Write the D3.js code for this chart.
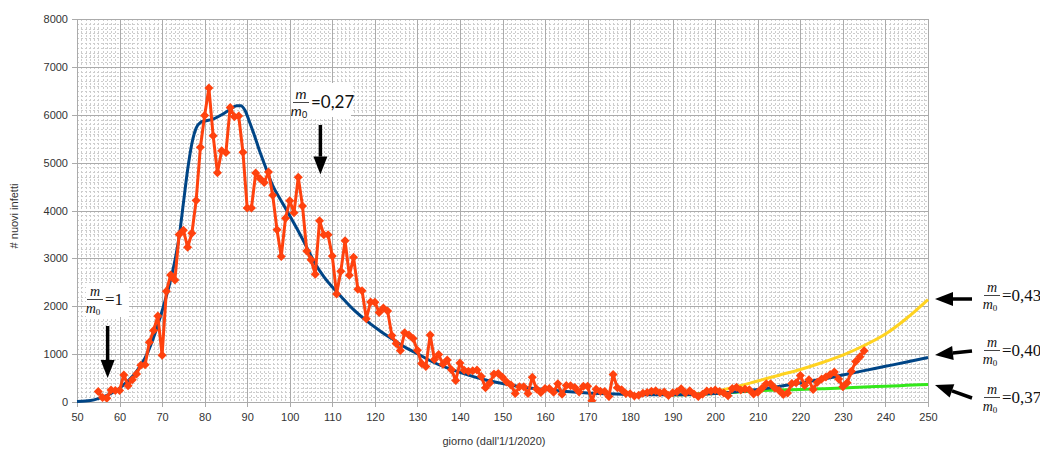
<!DOCTYPE html>
<html>
<head>
<meta charset="utf-8">
<script src="https://cdn.jsdelivr.net/npm/d3@7"></script>
<style>
  body { margin: 0; background: #fff; }
  svg { display: block; }
</style>
</head>
<body>
<svg id="chart" width="1040" height="449"></svg>
<script>
// Daily new cases, one value per day starting at day 55
const firstCaseDay = 55;
const newCases = [
  221, 93, 78, 250, 238, 240, 566, 342, 466, 587,
  769, 778, 1247, 1492, 1797, 977, 2313, 2651, 2547, 3497,
  3590, 3233, 3526, 4207, 5322, 5986, 6557, 5560, 4789, 5249,
  5210, 6153, 5959, 5974, 5217, 4050, 4053, 4782, 4668, 4585,
  4805, 4316, 3599, 3039, 3836, 4204, 3951, 4694, 4092, 3153,
  2972, 2667, 3786, 3493, 3491, 3047, 2256, 2729, 3370, 2646,
  3021, 2357, 2324, 1739, 2091, 2086, 1872, 1965, 1900, 1389,
  1221, 1075, 1444, 1401, 1327, 1083, 802, 744, 1402, 888,
  992, 789, 875, 675, 451, 813, 665, 642, 652, 669,
  531, 300, 397, 584, 593, 516, 416, 355, 178, 318,
  321, 177, 518, 270, 197, 280, 283, 202, 379, 163,
  346, 338, 301, 210, 328, 331, 25, 264, 224, 221,
  113, 577, 296, 255, 175, 174, 126, 142, 182, 201,
  223, 235, 192, 208, 137, 193, 214, 276, 188, 234,
  169, 114, 162, 230, 231, 249, 218, 190, 129, 280,
  306, 252, 274, 254, 168, 202, 288, 382, 379, 295,
  238, 159, 190, 384, 401, 552, 347, 463, 259, 412,
  481, 523, 574, 629, 479, 320, 403, 642, 845, 947,
  1071
];

// Model curve, m/m0 = 0,40 in the late phase
const modelDays = [50, 52, 54, 56, 58, 60, 62, 64, 66, 68, 70, 72, 73, 74, 75, 76, 77, 78, 79, 80,
  82, 84, 86, 87.5, 88.5, 89.5, 90.5, 91.5, 93, 94, 96, 98, 100, 102, 104, 106, 108, 110, 112, 115,
  118, 121, 124, 127, 130, 134, 138, 142, 146, 150, 155, 160, 165, 170, 175, 180, 185, 190, 195, 200,
  205, 210, 215, 220, 225, 230, 235, 240, 245, 250];
const modelValues = [10, 20, 45, 100, 180, 290, 440, 640, 920, 1350, 1900, 2550, 2950, 3450, 4150, 4850, 5400, 5720, 5840, 5870,
  5910, 6000, 6110, 6190, 6190, 6090, 5860, 5620, 5220, 4980, 4520, 4200, 3890, 3570, 3230, 2890, 2620, 2400, 2210, 1930,
  1700, 1500, 1320, 1150, 1010, 820, 680, 560, 460, 385, 310, 260, 220, 190, 172, 158, 150, 150, 158, 180,
  215, 262, 322, 395, 475, 565, 655, 745, 835, 930];

// Scenario m/m0 = 0,43
const highDays = [190, 195, 200, 205, 210, 215, 220, 225, 230, 235, 240, 245, 250];
const highValues = [150, 165, 220, 320, 440, 560, 680, 820, 980, 1180, 1420, 1750, 2140];

// Scenario m/m0 = 0,37
const lowDays = [190, 195, 200, 205, 210, 215, 220, 225, 230, 235, 240, 245, 250];
const lowValues = [150, 158, 178, 205, 235, 252, 262, 275, 292, 315, 330, 348, 365];

const xTickLabels = [50, 60, 70, 80, 90, 100, 110, 120, 130, 140, 150, 160, 170, 180, 190, 200, 210, 220, 230, 240, 250];
const yTickLabels = [0, 1000, 2000, 3000, 4000, 5000, 6000, 7000, 8000];

const svg = d3.select("#chart");
const plot = { left: 77, right: 928, top: 19, bottom: 402 };

const x = d3.scaleLinear().domain([50, 250]).range([plot.left, plot.right]);
const y = d3.scaleLinear().domain([0, 8000]).range([plot.bottom, plot.top]);

// Fine dashed grid: one line per day and per 100 cases
const gMinor = svg.append("g").attr("stroke", "#cdcdcd").attr("stroke-width", 1)
  .attr("stroke-dasharray", "2,2").attr("shape-rendering", "crispEdges");
gMinor.selectAll("line.vx").data(d3.range(50, 251, 1).filter(d => d % 10 !== 0)).join("line")
  .attr("x1", d => Math.round(x(d)) + 0.5).attr("x2", d => Math.round(x(d)) + 0.5)
  .attr("y1", plot.top).attr("y2", plot.bottom);
gMinor.selectAll("line.hy").data(d3.range(0, 8001, 100).filter(d => d % 1000 !== 0)).join("line")
  .attr("y1", d => Math.round(y(d)) + 0.5).attr("y2", d => Math.round(y(d)) + 0.5)
  .attr("x1", plot.left).attr("x2", plot.right);

// Major grid + axes
const xAxis = d3.axisBottom(x).tickValues(xTickLabels).tickSize(5).tickPadding(6).tickFormat(d => d);
const yAxis = d3.axisLeft(y).tickValues(yTickLabels).tickSize(5).tickPadding(4).tickFormat(d => d);

const gMajor = svg.append("g").attr("stroke", "#ababab").attr("stroke-width", 1).attr("shape-rendering", "crispEdges");
gMajor.selectAll("line.gx").data(xTickLabels).join("line")
  .attr("x1", d => Math.round(x(d)) + 0.5).attr("x2", d => Math.round(x(d)) + 0.5)
  .attr("y1", plot.top).attr("y2", plot.bottom);
gMajor.selectAll("line.gy").data(yTickLabels).join("line")
  .attr("y1", d => Math.round(y(d)) + 0.5).attr("y2", d => Math.round(y(d)) + 0.5)
  .attr("x1", plot.left).attr("x2", plot.right);

function styleAxis(g) {
  g.select(".domain").remove();
  g.selectAll(".tick line").attr("stroke", "#ababab").attr("shape-rendering", "crispEdges");
  g.selectAll(".tick text").attr("fill", "#333").attr("font-family", "Liberation Sans, Arial, sans-serif").attr("font-size", 11);
}
svg.append("g").attr("transform", `translate(0,${plot.bottom})`).call(xAxis).call(styleAxis);
svg.append("g").attr("transform", `translate(${plot.left},0)`).call(yAxis).call(styleAxis);

// Axis titles
svg.append("text").attr("x", 494).attr("y", 445).attr("text-anchor", "middle")
  .attr("font-family", "Liberation Sans, Arial, sans-serif").attr("font-size", 11).attr("fill", "#333")
  .text("giorno (dall'1/1/2020)");
svg.append("text").attr("transform", "translate(18,216) rotate(-90)").attr("text-anchor", "middle")
  .attr("font-family", "Liberation Sans, Arial, sans-serif").attr("font-size", 11).attr("fill", "#333")
  .text("# nuovi infetti");

// Curves
const curveLine = d3.line().x(d => x(d[0])).y(d => y(d[1])).curve(d3.curveMonotoneX);
const zip = (a, b) => a.map((v, i) => [v, b[i]]);

svg.append("path").datum(zip(highDays, highValues)).attr("d", curveLine)
  .attr("fill", "none").attr("stroke", "#ffd320").attr("stroke-width", 3);
svg.append("path").datum(zip(lowDays, lowValues)).attr("d", curveLine)
  .attr("fill", "none").attr("stroke", "#33e81a").attr("stroke-width", 3);
svg.append("path").datum(zip(modelDays, modelValues)).attr("d", curveLine)
  .attr("fill", "none").attr("stroke", "#004586").attr("stroke-width", 3);

// Daily cases: polyline with diamond markers
const cases = newCases.map((v, i) => [firstCaseDay + i, v]);
svg.append("defs").append("clipPath").attr("id", "plotClip").append("rect")
  .attr("x", plot.left - 10).attr("y", plot.top).attr("width", plot.right - plot.left + 20).attr("height", plot.bottom - plot.top);
const gCases = svg.append("g").attr("clip-path", "url(#plotClip)");
gCases.append("path").datum(cases)
  .attr("d", d3.line().x(d => x(d[0])).y(d => y(d[1])))
  .attr("fill", "none").attr("stroke", "#ff420e").attr("stroke-width", 3).attr("stroke-linejoin", "round");
const r = 4.5;
gCases.selectAll("path.mk").data(cases).join("path")
  .attr("d", `M0,${-r}L${r},0L0,${r}L${-r},0Z`)
  .attr("transform", d => `translate(${x(d[0])},${y(d[1])})`)
  .attr("fill", "#ff420e");

// Annotations: ratio m/m0 with an arrow
function ratioLabel(cx, barY, value, opts = {}) {
  const font = opts.font || "Liberation Serif, Times New Roman, serif";
  const g = svg.append("g").attr("font-family", font).attr("fill", "#111");
  if (opts.box) {
    g.append("rect").attr("x", opts.box[0]).attr("y", opts.box[1])
      .attr("width", opts.box[2]).attr("height", opts.box[3]).attr("fill", "#fff");
  }
  g.append("text").attr("x", cx).attr("y", barY - 3.5).attr("text-anchor", "middle")
    .attr("font-style", "italic").attr("font-size", 14).text("m");
  g.append("line").attr("x1", cx - 8).attr("x2", cx + 8).attr("y1", barY + 0.5).attr("y2", barY + 0.5)
    .attr("stroke", "#444").attr("stroke-width", 1);
  const den = g.append("text").attr("x", cx - 2).attr("y", barY + 13.5).attr("text-anchor", "middle");
  den.append("tspan").attr("font-style", "italic").attr("font-size", 14).text("m");
  den.append("tspan").attr("font-size", 9).attr("dy", 2).text("0");
  g.append("text").attr("x", cx + 10).attr("y", barY + 6).attr("font-size", 17).text("=" + value);
}

function arrow(x1, y1, x2, y2) {
  // shaft from (x1,y1) to tip (x2,y2)
  const ang = Math.atan2(y2 - y1, x2 - x1);
  const headLen = 18, headHalf = 7;
  const bx = x2 - headLen * Math.cos(ang), by = y2 - headLen * Math.sin(ang);
  svg.append("line").attr("x1", x1).attr("y1", y1).attr("x2", bx).attr("y2", by)
    .attr("stroke", "#000").attr("stroke-width", 3.5);
  const px = -Math.sin(ang) * headHalf, py = Math.cos(ang) * headHalf;
  svg.append("path").attr("d", `M${x2},${y2}L${bx + px},${by + py}L${bx - px},${by - py}Z`).attr("fill", "#000");
}

ratioLabel(95, 299, "1", { box: [86, 283, 43, 34] });
arrow(x(57.2), 326, x(57.2), y(500));

ratioLabel(301, 102, "0,27", { box: [292, 83, 59, 34], font: "Lato, Carlito, sans-serif" });
arrow(x(107.2), 125, x(107.2), y(4750));

ratioLabel(992, 295, "0,43");
arrow(972, 299, 935, 299);
ratioLabel(992, 350, "0,40");
arrow(972, 351, 935, 355);
ratioLabel(992, 397, "0,37");
arrow(972, 398, 935, 385);
</script>
</body>
</html>
